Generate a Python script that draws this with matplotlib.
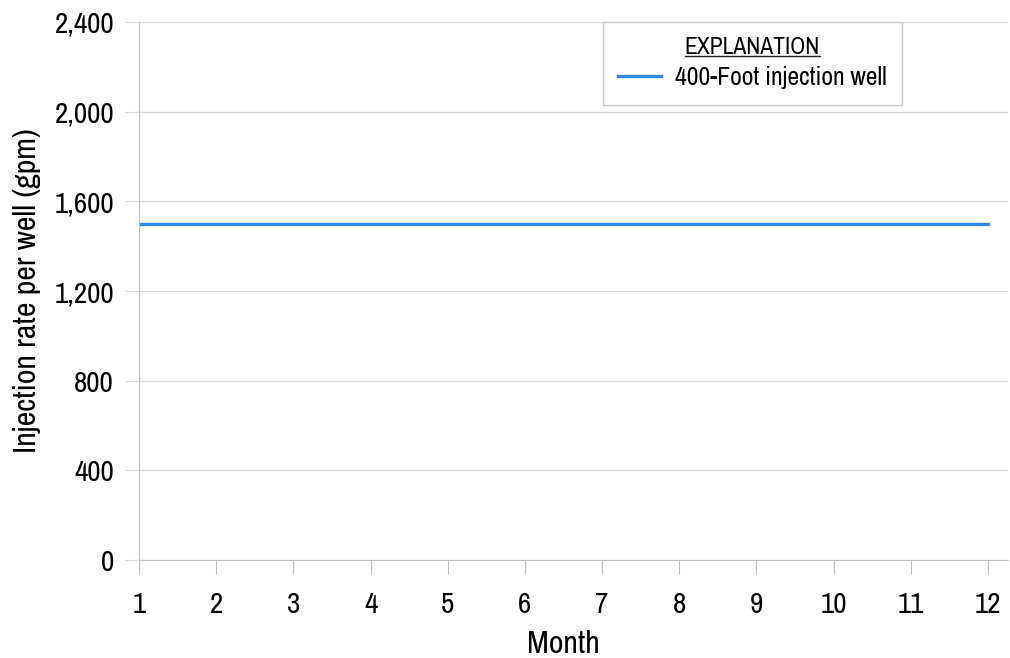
import matplotlib
matplotlib.use('Agg')
import matplotlib.pyplot as plt
from matplotlib import font_manager

months = [1, 2, 3, 4, 5, 6, 7, 8, 9, 10, 11, 12]
rate_400ft = [1500, 1500, 1500, 1500, 1500, 1500, 1500, 1500, 1500, 1500, 1500, 1500]
y_ticks = [0, 400, 800, 1200, 1600, 2000, 2400]

# Arial Narrow look-alike, whichever is available
names = set(f.name for f in font_manager.fontManager.ttflist)
fam = 'Liberation Sans'
narrow = False
for cand in ['Liberation Sans Narrow', 'Arial Narrow', 'Archivo Narrow',
             'PT Sans Narrow', 'Roboto Condensed', 'Arimo']:
    if cand in names:
        fam = cand
        narrow = cand != 'Arimo'
        break
plt.rcParams['font.family'] = [fam, 'DejaVu Sans']

k = 1.0 if narrow else 0.85   # size factor, wide fonts are shrunk to fit
grid_c = '#d9d9d9'
axis_c = '#bfbfbf'

fig = plt.figure(figsize=(10.10, 6.58), dpi=100)
ax = fig.add_axes([139/1010, 1 - 560/658, (1008-139)/1010, (560-22)/658])

ax.plot(months, rate_400ft, color='#2e8ae6', lw=2.4, label='400-Foot injection well')

ax.set_xlim(1, 12.26)
ax.set_ylim(0, 2400)
ax.set_xticks(months)
ax.set_yticks(y_ticks)
ax.set_yticklabels(['{:,}'.format(v) for v in y_ticks])
ax.grid(axis='y', color=grid_c, lw=1)
ax.set_axisbelow(True)

for s in ['top', 'right']:
    ax.spines[s].set_visible(False)
ax.spines['left'].set_color(axis_c)
ax.spines['bottom'].set_color(axis_c)
ax.tick_params(axis='x', length=10, color=axis_c, labelsize=21*k, pad=12)
ax.tick_params(axis='y', length=10, color=grid_c, labelsize=21*k, pad=8)

ax.set_xlabel('Month', fontsize=23*k)
ax.xaxis.set_label_coords(5.5/11.26, -0.13)
ax.set_ylabel('Injection rate per well (gpm)', fontsize=23*k)
ax.yaxis.set_label_coords(-0.113, 0.5)

leg = ax.legend(loc='upper right', bbox_to_anchor=((902-139)/869, 1.0),
                fontsize=18.5*k, title='EXPLANATION', frameon=True, fancybox=False,
                edgecolor='#bfbfbf', handlelength=1.65, borderpad=0.6,
                handletextpad=0.55, borderaxespad=0, labelspacing=0.3)
leg.get_title().set_fontsize(17*k)
leg.get_frame().set_linewidth(1)
title_txt = leg.get_title()

fig.canvas.draw()
bb = title_txt.get_window_extent()
inv = fig.transFigure.inverted()
(x0, y0), (x1, y1) = inv.transform([[bb.x0, bb.y0], [bb.x1, bb.y1]])
fig.add_artist(plt.Line2D([x0, x1], [y0 + 0.003, y0 + 0.003], color='#222222', lw=1,
                          transform=fig.transFigure))

fig.savefig('out.png', dpi=100)
